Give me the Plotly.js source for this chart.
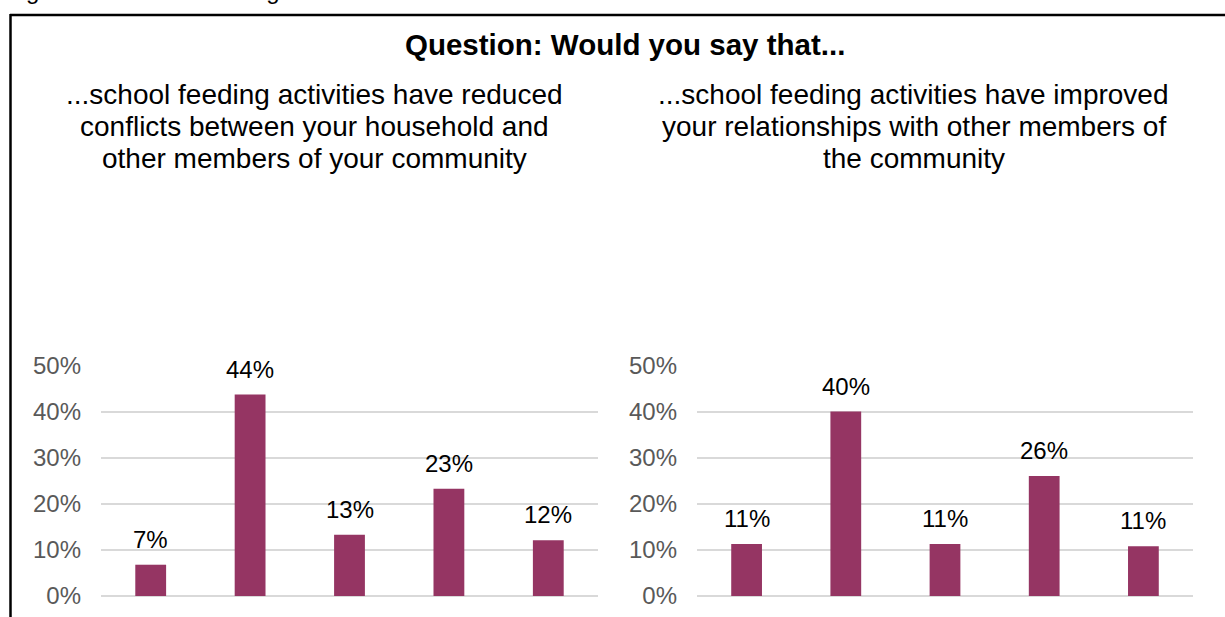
<!DOCTYPE html>
<html>
<head>
<meta charset="utf-8">
<script src="https://cdn.plot.ly/plotly-3.0.1.min.js"></script>
<style>html,body{margin:0;padding:0;background:#fff;}#chart{width:1225px;height:617px;}</style>
</head>
<body>
<div id="chart"></div>
<script>
// ---- data ----
const categories = ["A", "B", "C", "D", "E"];
const reducedConflicts = [7, 44, 13, 23, 12];
const reducedConflictsValues = [6.8, 43.8, 13.3, 23.3, 12.1];
const improvedRelations = [11, 40, 11, 26, 11];
const improvedRelationsValues = [11.3, 40.1, 11.3, 26.1, 10.8];
const yTicks = [0, 10, 20, 30, 40, 50];
const yTickText = ["0%", "10%", "20%", "30%", "40%", "50%"];
const figureCaption = "Figure 14: School feeding and social cohesion";
const mainTitle = "Question: Would you say that...";
const leftTitleLines = ["...school feeding activities have reduced", "conflicts between your household and", "other members of your community"];
const rightTitleLines = ["...school feeding activities have improved", "your relationships with other members of", "the community"];

// ---- layout helpers ----
const W = 1225, H = 617;
const px = x => x / W;
const py = y => 1 - y / H;
const barColor = "#953563";
const font = "Liberation Sans, Arial, sans-serif";

const traces = [
  {type: "bar", x: categories, y: reducedConflictsValues, xaxis: "x", yaxis: "y",
   marker: {color: barColor}, width: 0.31, hoverinfo: "skip"},
  {type: "bar", x: categories, y: improvedRelationsValues, xaxis: "x2", yaxis: "y2",
   marker: {color: barColor}, width: 0.31, hoverinfo: "skip"}
];

const yCommon = {
  range: [0, 50], tickmode: "array", tickvals: yTicks, ticktext: yTickText,
  showgrid: true, gridcolor: "#d9d9d9", gridwidth: 1.5,
  zeroline: true, zerolinecolor: "#d9d9d9", zerolinewidth: 1.5,
  showline: false, ticks: "", ticklabelstandoff: 19,
  tickfont: {family: font, size: 24, color: "#595959"}, fixedrange: true
};
const xCommon = {showticklabels: false, showgrid: false, zeroline: false, showline: false, ticks: "", fixedrange: true};

const annotations = [];
function labels(vals, shown, xref, yref) {
  categories.forEach((c, i) => {
    annotations.push({x: c, y: vals[i], xref: xref, yref: yref, text: shown[i] + "%",
      showarrow: false, yanchor: "bottom", yshift: 10,
      font: {family: font, size: 24, color: "#000"}});
  });
}
labels(reducedConflictsValues, reducedConflicts, "x", "y");
labels(improvedRelationsValues, improvedRelations, "x2", "y2");

annotations.push({xref: "paper", yref: "paper", x: px(4), y: py(6), xanchor: "left", yanchor: "bottom",
  text: figureCaption, showarrow: false, font: {family: font, size: 24, color: "#000"}});
annotations.push({xref: "paper", yref: "paper", x: px(625), y: py(44), xanchor: "center", yanchor: "middle",
  text: "<b>" + mainTitle + "</b>", showarrow: false, font: {family: font, size: 29.5, color: "#000"}});
function titleLines(lines, cx) {
  lines.forEach((t, i) => {
    annotations.push({xref: "paper", yref: "paper", x: px(cx), y: py(95 + 31.5 * i), xanchor: "center", yanchor: "middle",
      text: t, showarrow: false, font: {family: font, size: 28, color: "#000"}});
  });
}
titleLines(leftTitleLines, 315);
titleLines(rightTitleLines, 914);

const layout = {
  width: W, height: H, margin: {l: 0, r: 0, t: 0, b: 0},
  paper_bgcolor: "#fff", plot_bgcolor: "rgba(0,0,0,0)", showlegend: false,
  bargap: 0.69,
  xaxis: Object.assign({domain: [px(101), px(598)], anchor: "y"}, xCommon),
  xaxis2: Object.assign({domain: [px(697), px(1193)], anchor: "y2"}, xCommon),
  yaxis: Object.assign({domain: [py(596), py(366)], anchor: "x"}, yCommon),
  yaxis2: Object.assign({domain: [py(596), py(366)], anchor: "x2"}, yCommon),
  annotations: annotations,
  shapes: [
    {type: "line", xref: "paper", yref: "paper", x0: px(10), x1: 1.01, y0: py(15), y1: py(15), line: {color: "#000", width: 2.5}},
    {type: "line", xref: "paper", yref: "paper", x0: px(10.5), x1: px(10.5), y0: py(14), y1: -0.01, line: {color: "#000", width: 2.5}}
  ]
};

Plotly.newPlot("chart", traces, layout, {staticPlot: true, displayModeBar: false});
</script>
</body>
</html>
